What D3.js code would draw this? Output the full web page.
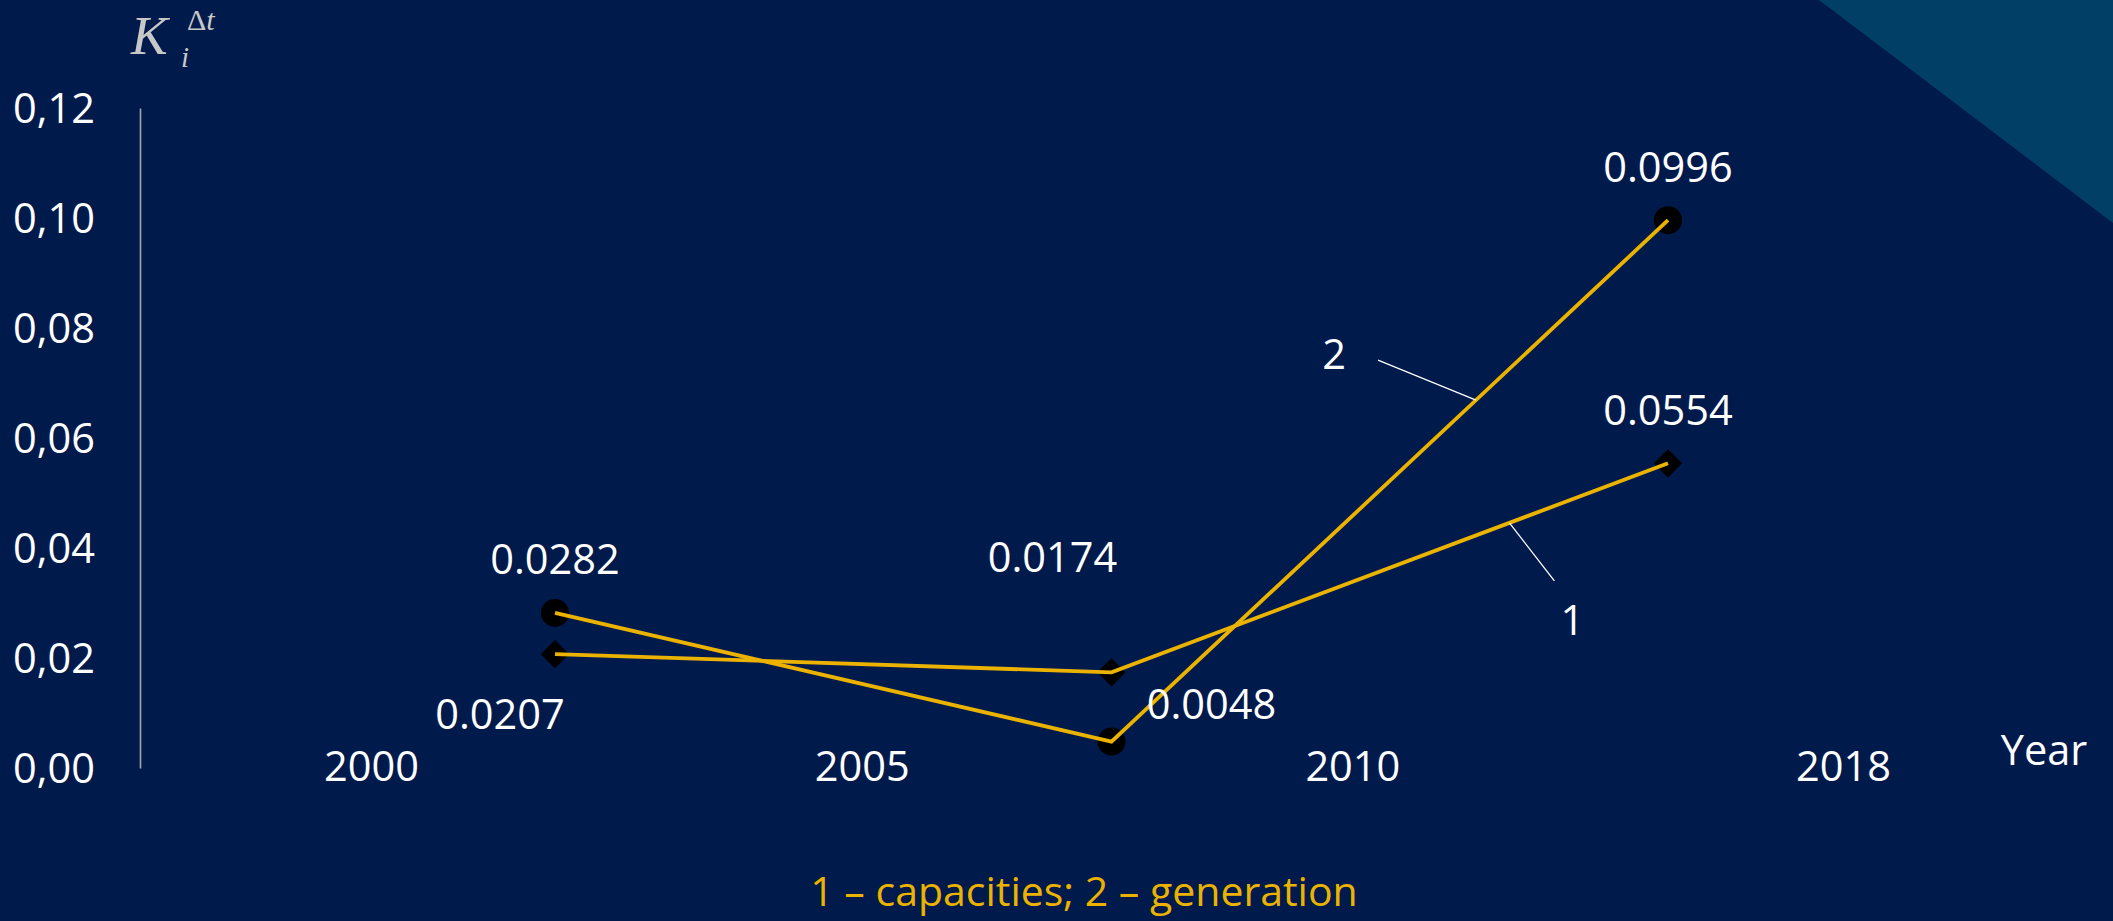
<!DOCTYPE html>
<html>
<head>
<meta charset="utf-8">
<script src="https://cdn.jsdelivr.net/npm/d3@7"></script>
<style>
  html, body { margin: 0; padding: 0; background: #001a4c; overflow: hidden; }
  svg { display: block; }
</style>
</head>
<body>
<svg id="chart" width="2113" height="921"></svg>
<script>
// ---------------- DATA ----------------
const intervals = ["2000–2005", "2005–2010", "2010–2018"];
const yearLabels = ["2000", "2005", "2010", "2018"];
const capacities = [0.0207, 0.0174, 0.0554];   // series 1 (diamonds)
const generation = [0.0282, 0.0048, 0.0996];   // series 2 (circles)
const capacityLabelPlacement = ["below-left", "above-left", "above"];
const generationLabelPlacement = ["above", "right", "above"];
const yTicks = [0, 0.02, 0.04, 0.06, 0.08, 0.10, 0.12];
const legendText = "1 – capacities; 2 – generation";
const xTitle = "Year";

// ---------------- LAYOUT ----------------
const W = 2113, H = 921;
const plotTop = 108, plotBottom = 768;
const axisX = 140;
const gold = "#ebb300";
const font = "'Open Sans', 'Noto Sans', sans-serif";
const fs = 41.5;

const svg = d3.select("#chart");
svg.append("rect").attr("width", W).attr("height", H).attr("fill", "#001a4c");
// decorative corner triangle
svg.append("path")
  .attr("d", d3.line()([[1819, 0], [W, 0], [W, 223]]) + "Z")
  .attr("fill", "#023f66");

const y = d3.scaleLinear().domain([0, 0.12]).range([plotBottom, plotTop]);
const xPt = d3.scalePoint().domain(intervals).range([555, 1668]);
const xYear = d3.scalePoint().domain(yearLabels).range([371, 1843]);

// Y axis
const yAxis = svg.append("g")
  .attr("transform", `translate(${axisX},0)`)
  .call(d3.axisLeft(y).tickValues(yTicks).tickSize(0).tickPadding(45)
    .tickFormat(d => d.toFixed(2).replace(".", ",")));
yAxis.select(".domain").attr("stroke", "#a6a6a6").attr("stroke-width", 1.6);
yAxis.selectAll("text").attr("fill", "#ffffff").attr("font-family", font)
  .attr("font-size", fs).attr("dy", "0.35em");

// X labels
const xAxis = svg.append("g")
  .attr("transform", `translate(0,${plotBottom - 2})`)
  .call(d3.axisBottom(xYear).tickSize(0).tickPadding(0));
xAxis.select(".domain").remove();
xAxis.selectAll("text").attr("fill", "#ffffff").attr("font-family", font)
  .attr("font-size", fs).attr("y", 0).attr("dy", "0.35em");

// Axis titles
svg.append("text").attr("x", 2044).attr("y", 750).attr("dy", "0.35em")
  .attr("text-anchor", "middle").attr("fill", "#ffffff")
  .attr("font-family", font).attr("font-size", fs).text(xTitle);

const yt = svg.append("g").attr("fill", "#c8c8c8").attr("font-family", "'Liberation Serif', 'DejaVu Serif', serif");
yt.append("text").attr("x", 131).attr("y", 54).attr("font-size", 55).attr("font-style", "italic").text("K");
yt.append("text").attr("x", 181).attr("y", 67).attr("font-size", 29).attr("font-style", "italic").text("i");
const sup = yt.append("text").attr("x", 187).attr("y", 30).attr("font-size", 30);
sup.append("tspan").text("Δ");
sup.append("tspan").attr("font-style", "italic").text("t");

// Series
const series = [
  { values: capacities, placement: capacityLabelPlacement, marker: "diamond" },
  { values: generation, placement: generationLabelPlacement, marker: "circle" }
];

const line = d3.line().x((d, i) => xPt(intervals[i])).y(d => y(d));

// markers first (lines drawn on top)
series.forEach(s => {
  const g = svg.append("g");
  if (s.marker === "circle") {
    g.selectAll("circle").data(s.values).join("circle")
      .attr("cx", (d, i) => xPt(intervals[i])).attr("cy", d => y(d))
      .attr("r", 14).attr("fill", "#000000");
  } else {
    g.selectAll("path").data(s.values).join("path")
      .attr("d", d3.symbol(d3.symbolSquare, 400)())
      .attr("transform", (d, i) => `translate(${xPt(intervals[i])},${y(d)}) rotate(45)`)
      .attr("fill", "#000000");
  }
});
series.forEach(s => {
  svg.append("path").datum(s.values).attr("d", line)
    .attr("fill", "none").attr("stroke", gold).attr("stroke-width", 3.8);
});

// value labels
const offsets = {
  "above": [0, -53],
  "below-left": [-55, 60],
  "above-left": [-59, -115],
  "right": [100, -37]
};
series.forEach(s => {
  svg.append("g").selectAll("text").data(s.values).join("text")
    .attr("x", (d, i) => xPt(intervals[i]) + offsets[s.placement[i]][0])
    .attr("y", (d, i) => y(d) + offsets[s.placement[i]][1])
    .attr("dy", "0.35em").attr("text-anchor", "middle")
    .attr("fill", "#ffffff").attr("font-family", font).attr("font-size", fs)
    .text(d => d.toFixed(4));
});

// series callouts "1" and "2"
const callouts = [
  { label: "1", s: 0, seg: 1, t: 0.715, lead: [45, 58], text: [63, 98] },
  { label: "2", s: 1, seg: 1, t: 0.655, lead: [-98, -40], text: [-142, -46] }
];
callouts.forEach(c => {
  const v = series[c.s].values;
  const x0 = xPt(intervals[c.seg]), x1 = xPt(intervals[c.seg + 1]);
  const y0 = y(v[c.seg]), y1 = y(v[c.seg + 1]);
  const ax = x0 + (x1 - x0) * c.t, ay = y0 + (y1 - y0) * c.t;
  svg.append("line").attr("x1", ax).attr("y1", ay)
    .attr("x2", ax + c.lead[0]).attr("y2", ay + c.lead[1])
    .attr("stroke", "#ffffff").attr("stroke-width", 1.3);
  svg.append("text").attr("x", ax + c.text[0]).attr("y", ay + c.text[1])
    .attr("dy", "0.35em").attr("text-anchor", "middle").attr("fill", "#ffffff")
    .attr("font-family", font).attr("font-size", fs).text(c.label);
});

// legend
svg.append("text").attr("x", 1084).attr("y", 892).attr("dy", "0.35em")
  .attr("text-anchor", "middle").attr("fill", gold)
  .attr("font-family", font).attr("font-size", 41).text(legendText);
</script>
</body>
</html>
